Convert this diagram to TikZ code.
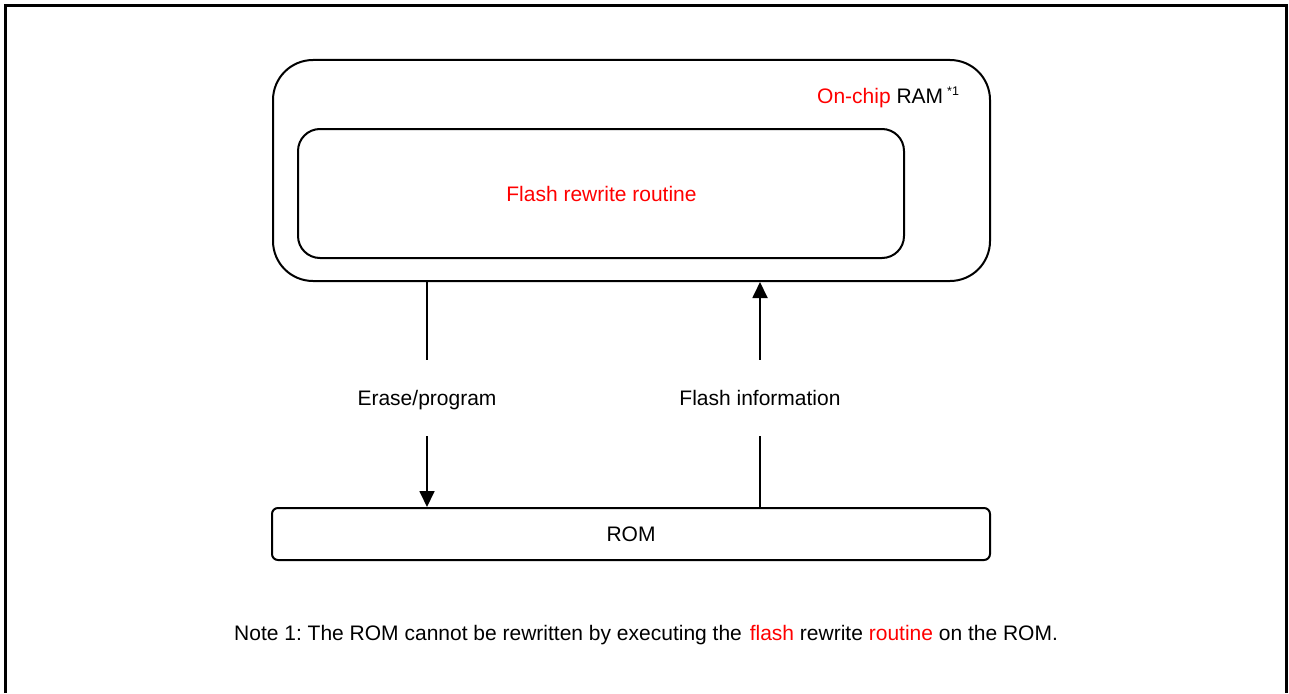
\documentclass[tikz,border=0pt]{standalone}
\usepackage{fontspec}
\setmainfont{Liberation Sans}
\usetikzlibrary{arrows.meta}
\begin{document}
\frenchspacing
\begin{tikzpicture}[x=1pt,y=-1pt,
  every node/.style={font=\fontsize{21}{25}\selectfont, inner sep=0pt},
  box/.style={draw, line width=2pt},
  link/.style={line width=1.8pt},
  tip/.style={link, -{Triangle[length=16pt,width=15pt]}},
  label/.style={minimum height=76pt, minimum width=20pt, text height=16pt, text depth=2pt}]
\useasboundingbox (0,0) rectangle (1289,693);
% open frame around the figure
\draw[line width=3pt] (5,693) -- (5,6) -- (1286,6) -- (1286,693);
% on-chip RAM with the rewrite routine inside
\node[box, rounded corners=40pt, minimum width=717pt, minimum height=221pt] (ram) at (631.5,170.5) {};
\node[anchor=base west] (ramlabel) at (817,103) {\textcolor{red}{On-chip} RAM};
\node[anchor=base west, font=\fontsize{12.5}{15}\selectfont] (note1) at (947,95) {*1};
\node[box, rounded corners=22pt, minimum width=606pt, minimum height=129pt] (routine) at (601,193.5) {};
\node (routinelabel) at (601.5,194) {\textcolor{red}{Flash rewrite routine}};
% ROM
\node[box, rounded corners=6pt, minimum width=718pt, minimum height=52pt] (rom) at (631,534) {ROM};
% access labels, split into the connectors
\node[label] (erase) at (427,398) {Erase/program};
\node[label] (info) at (760,398) {Flash information};
\draw[link] (ram.south -| erase.north) -- (erase.north);
\draw[tip] (erase.south) -- (erase.south |- rom.north);
\draw[link] (rom.north -| info.south) -- (info.south);
\draw[tip] (info.north) -- (info.north |- ram.south);
% footnote
\node[anchor=base west] (note) at (234,640) {Note 1: The ROM cannot be rewritten by executing the\hspace{2pt} \textcolor{red}{flash} rewrite \textcolor{red}{routine} on the ROM.};
\end{tikzpicture}
\end{document}
